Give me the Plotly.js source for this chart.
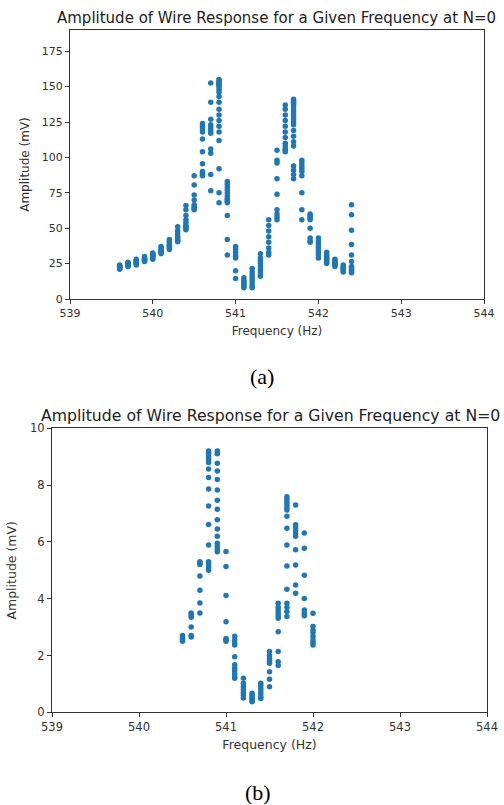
<!DOCTYPE html>
<html>
<head>
<meta charset="utf-8">
<script src="https://cdn.plot.ly/plotly-3.0.1.min.js"></script>
<style>html,body{margin:0;padding:0;background:#fff;}#chart{width:504px;height:805px;}</style>
</head>
<body>
<div id="chart"></div>
<script>
// ---------- Data: plot (a) ----------
const freqsA = [539.6, 539.7, 539.8, 539.9, 540.0, 540.1, 540.2, 540.3, 540.4, 540.5,
  540.6, 540.7, 540.8, 540.9, 541.0, 541.1, 541.2, 541.3, 541.4, 541.5,
  541.6, 541.7, 541.8, 541.9, 542.0, 542.1, 542.2, 542.3, 542.4];
const ampsA = [
  [24, 23.5, 23, 22.5, 22, 21.5, 21],
  [26, 25.5, 25, 24.5, 24, 23.5, 23],
  [28, 27, 26.5, 26, 25.5, 25, 24],
  [30, 29, 28.5, 28, 27.5, 27, 26.5],
  [32.5, 31.5, 31, 30.5, 30, 29, 28],
  [37, 36, 35, 34, 33.5, 33, 32],
  [42, 40.5, 39, 38, 37, 36, 35],
  [51, 48, 46, 44, 43, 42, 41, 40.5],
  [66, 63, 59, 56, 54, 52, 51, 50, 49],
  [87, 80.5, 73.5, 70, 66.5, 65.5, 64.5, 64, 63],
  [124, 122, 120, 118, 113, 104, 95.5, 90, 89, 88, 87],
  [152.6, 139, 127, 123, 121, 119, 117, 106, 103, 88, 76.5],
  [155, 154, 153, 152, 151, 150, 148, 146, 143, 139, 134, 130, 126, 122, 118, 112, 92, 75, 68],
  [83, 81, 79, 77, 75, 73, 71, 70, 69, 68, 59, 42, 31],
  [37, 35, 33, 31, 30, 29, 20, 14.5],
  [15, 13, 12, 11, 10, 9, 8],
  [21.5, 19, 17, 15, 13, 11, 9, 8],
  [32, 29, 27, 25, 23, 21, 19, 17, 16],
  [56, 52, 48, 44, 40, 36, 33, 31],
  [105, 98, 96, 85, 74, 63, 60, 58, 56],
  [137, 134, 130, 126, 122, 118, 114, 110, 108, 106, 105, 104],
  [141, 140, 139, 138, 137, 135, 133, 131, 129, 127, 125, 123, 119, 115, 111, 108, 94, 91, 88, 85],
  [98, 96, 94, 92, 90, 87, 75, 63, 56],
  [60, 59, 58, 57, 56, 50, 43, 41, 40],
  [43, 41, 39, 37, 35, 33, 31, 29],
  [33, 31.5, 30, 29, 28, 27, 26, 25],
  [28, 27, 26, 25, 24.5, 24, 23],
  [24, 23, 22, 21.5, 21, 20, 19],
  [66.5, 59.5, 48.5, 38.5, 31, 26.5, 23, 22, 21, 20, 19, 18.5]
];

// ---------- Data: plot (b) ----------
const freqsB = [540.5, 540.6, 540.7, 540.8, 540.9, 541.0, 541.1, 541.2, 541.3, 541.4,
  541.5, 541.6, 541.7, 541.8, 541.9, 542.0];
const ampsB = [
  [2.7, 2.65, 2.6, 2.55, 2.5],
  [3.5, 3.45, 3.4, 3.35, 3.0, 2.7, 2.65],
  [5.3, 5.25, 5.2, 4.8, 4.3, 3.85, 3.5],
  [9.2, 9.15, 9.1, 9.0, 8.9, 8.8, 8.57, 8.27, 7.86, 7.26, 6.61, 5.89, 5.3, 5.2, 5.1, 5.0],
  [9.2, 9.1, 8.77, 8.5, 8.2, 7.83, 7.47, 7.15, 6.78, 6.45, 6.2, 5.95, 5.85, 5.75, 5.65],
  [5.66, 5.13, 4.11, 3.19, 2.6, 2.55, 2.5],
  [2.68, 2.55, 2.45, 2.37, 1.96, 1.67, 1.55, 1.45, 1.35, 1.25, 1.2],
  [1.2, 1.02, 0.9, 0.8, 0.7, 0.6, 0.5],
  [0.67, 0.6, 0.55, 0.5, 0.45, 0.4, 0.37],
  [1.02, 0.95, 0.85, 0.75, 0.65, 0.55, 0.49],
  [2.14, 2.0, 1.9, 1.8, 1.73, 1.43, 1.16, 0.9],
  [3.84, 3.7, 3.6, 3.5, 3.4, 3.31, 2.84, 2.14, 1.78, 1.65],
  [7.59, 7.5, 7.4, 7.3, 7.2, 7.12, 6.9, 6.48, 5.89, 5.15, 4.33, 3.84, 3.7, 3.55, 3.37],
  [7.3, 6.6, 6.5, 6.4, 6.3, 6.2, 5.72, 5.19, 4.48, 4.19],
  [6.31, 5.78, 4.83, 4.01, 3.6, 3.5, 3.4],
  [3.49, 3.02, 2.9, 2.8, 2.67, 2.55, 2.45, 2.37]
];

const titleText = "Amplitude of Wire Response for a Given Frequency at N=0";
const xTitle = "Frequency (Hz)";
const yTitle = "Amplitude (mV)";

function flatten(freqs, amps) {
  const x = [], y = [];
  freqs.forEach((f, i) => amps[i].forEach(a => { x.push(f); y.push(a); }));
  return {x, y};
}
const A = flatten(freqsA, ampsA);
const B = flatten(freqsB, ampsB);

const blue = '#1f77b4';
const font = 'DejaVu Sans, sans-serif';
const W = 504, H = 805;
const py = p => 1 - p / H;

const traces = [
  {x: A.x, y: A.y, type: 'scatter', mode: 'markers', xaxis: 'x', yaxis: 'y',
   marker: {color: blue, size: 5.5}, hoverinfo: 'skip'},
  {x: B.x, y: B.y, type: 'scatter', mode: 'markers', xaxis: 'x2', yaxis: 'y2',
   marker: {color: blue, size: 5.5}, hoverinfo: 'skip'}
];

function axisBase(fs) {
  return {
    showline: true, mirror: true, linecolor: '#333', linewidth: 1,
    ticks: 'outside', ticklen: 4, tickwidth: 1, tickcolor: '#333',
    showgrid: false, zeroline: false, automargin: false,
    tickfont: {family: font, size: fs, color: '#333'}
  };
}

const layout = {
  width: W, height: H,
  margin: {l: 0, r: 0, t: 0, b: 0},
  paper_bgcolor: '#fff', plot_bgcolor: '#fff',
  showlegend: false,
  xaxis: Object.assign(axisBase(11), {
    domain: [70 / W, 484 / W], range: [539, 544], tickmode: 'array',
    tickvals: [539, 540, 541, 542, 543, 544], anchor: 'y',
    title: {text: xTitle, font: {family: font, size: 12, color: '#333'}, standoff: 7}
  }),
  yaxis: Object.assign(axisBase(11), {
    domain: [py(299), py(30)], range: [0, 190], tickmode: 'array',
    tickvals: [0, 25, 50, 75, 100, 125, 150, 175], anchor: 'x',
    title: {text: yTitle, font: {family: font, size: 12, color: '#333'}, standoff: 9}
  }),
  xaxis2: Object.assign(axisBase(11.5), {
    domain: [52 / W, 487 / W], range: [539, 544], tickmode: 'array',
    tickvals: [539, 540, 541, 542, 543, 544], anchor: 'y2',
    title: {text: xTitle, font: {family: font, size: 12.5, color: '#333'}, standoff: 7}
  }),
  yaxis2: Object.assign(axisBase(11.5), {
    domain: [py(712.3), py(428.3)], range: [0, 10], tickmode: 'array',
    tickvals: [0, 2, 4, 6, 8, 10], anchor: 'x2',
    title: {text: yTitle, font: {family: font, size: 12.5, color: '#333'}, standoff: 10}
  }),
  annotations: [
    {text: titleText, xref: 'paper', yref: 'paper', x: 276 / W, y: py(18),
     xanchor: 'center', yanchor: 'middle', showarrow: false,
     font: {family: font, size: 15, color: '#222'}},
    {text: titleText, xref: 'paper', yref: 'paper', x: 270 / W, y: py(415),
     xanchor: 'center', yanchor: 'middle', showarrow: false,
     font: {family: font, size: 15.7, color: '#222'}},
    {text: '(a)', xref: 'paper', yref: 'paper', x: 262 / W, y: py(377),
     xanchor: 'center', yanchor: 'middle', showarrow: false,
     font: {family: 'Liberation Serif, serif', size: 22, color: '#000'}},
    {text: '(b)', xref: 'paper', yref: 'paper', x: 258 / W, y: py(792),
     xanchor: 'center', yanchor: 'middle', showarrow: false,
     font: {family: 'Liberation Serif, serif', size: 22, color: '#000'}}
  ]
};

Plotly.newPlot('chart', traces, layout, {staticPlot: true, displayModeBar: false});
</script>
</body>
</html>
